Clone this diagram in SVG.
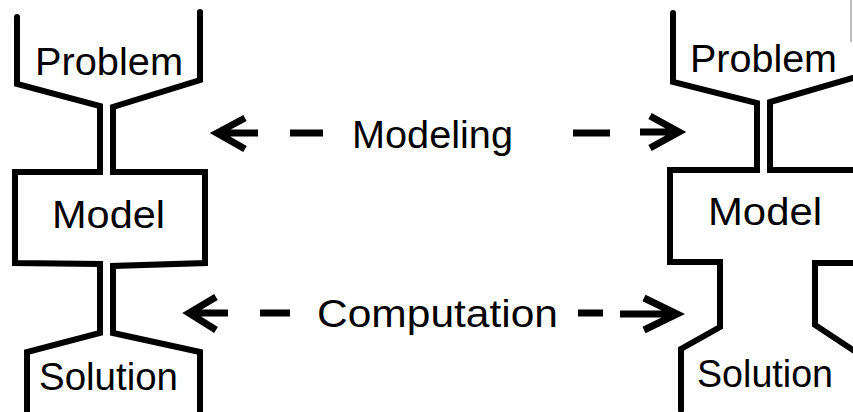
<svg xmlns="http://www.w3.org/2000/svg" width="853" height="412" viewBox="0 0 853 412">
<style>
.ln{fill:none;stroke:#000;stroke-width:6;stroke-linejoin:miter;stroke-linecap:round}
.ar{fill:none;stroke:#000;stroke-width:7;stroke-linejoin:miter;stroke-linecap:butt}
.t{font-family:"Liberation Sans",Arial,sans-serif;font-size:38px;fill:#000}
</style>
<rect width="853" height="412" fill="#fff"/>
<g id="left-figure">
<path class="ln" d="M17,17 L17,84 L100,106 L100,172 L15,172 L15,263 L100,264 L100,333 L27,352 L27,412"/>
<path class="ln" d="M200,12 L200,80 L113,107 L113,172 L205,172 L205,263 L113,266 L113,333 L200,352 L200,412"/>
</g>
<g id="left-problem"><text class="t" x="35" y="75" textLength="148" lengthAdjust="spacingAndGlyphs">Problem</text></g>
<g id="left-model"><text class="t" x="52" y="228" textLength="113" lengthAdjust="spacingAndGlyphs">Model</text></g>
<g id="left-solution"><text class="t" x="39" y="390" textLength="139" lengthAdjust="spacingAndGlyphs">Solution</text></g>
<g id="right-figure">
<path class="ln" d="M673,13 L673,82 L757,103 L757,170 L670,170 L670,262 L720,262 L720,327 L681,349 L681,410"/>
<path class="ln" d="M853,78 L770,102 L770,170 L853,170"/>
<path class="ln" d="M853,263 L815,263 L815,325 L853,350"/>
<line x1="851" y1="0" x2="851" y2="42" stroke="#aaa" stroke-width="1.5"/>
</g>
<g id="right-problem"><text class="t" x="690" y="72" textLength="147" lengthAdjust="spacingAndGlyphs">Problem</text></g>
<g id="right-model"><text class="t" x="708" y="225" textLength="114" lengthAdjust="spacingAndGlyphs">Model</text></g>
<g id="right-solution"><text class="t" x="697" y="387" textLength="136" lengthAdjust="spacingAndGlyphs">Solution</text></g>
<g id="connectors">
<path class="ar" d="M216,133 L258,133 M245,118 L217,133 L245,149"/>
<path class="ar" d="M290,133 L323,133"/>
<path class="ar" d="M573,133 L610,133"/>
<path class="ar" d="M640,132 L677,132 M650,116 L679,132 L650,148"/>
<path class="ar" d="M188,313 L228,313 M216,297 L189,313 L216,330"/>
<path class="ar" d="M260,313 L290,313"/>
<path class="ar" d="M578,313 L603,313"/>
<path class="ar" d="M620,314 L675,314 M644,298 L677,314 L644,330"/>
<text class="t" x="352" y="148" textLength="161" lengthAdjust="spacingAndGlyphs">Modeling</text>
<text class="t" x="317" y="327" textLength="241" lengthAdjust="spacingAndGlyphs">Computation</text>
</g>
</svg>
